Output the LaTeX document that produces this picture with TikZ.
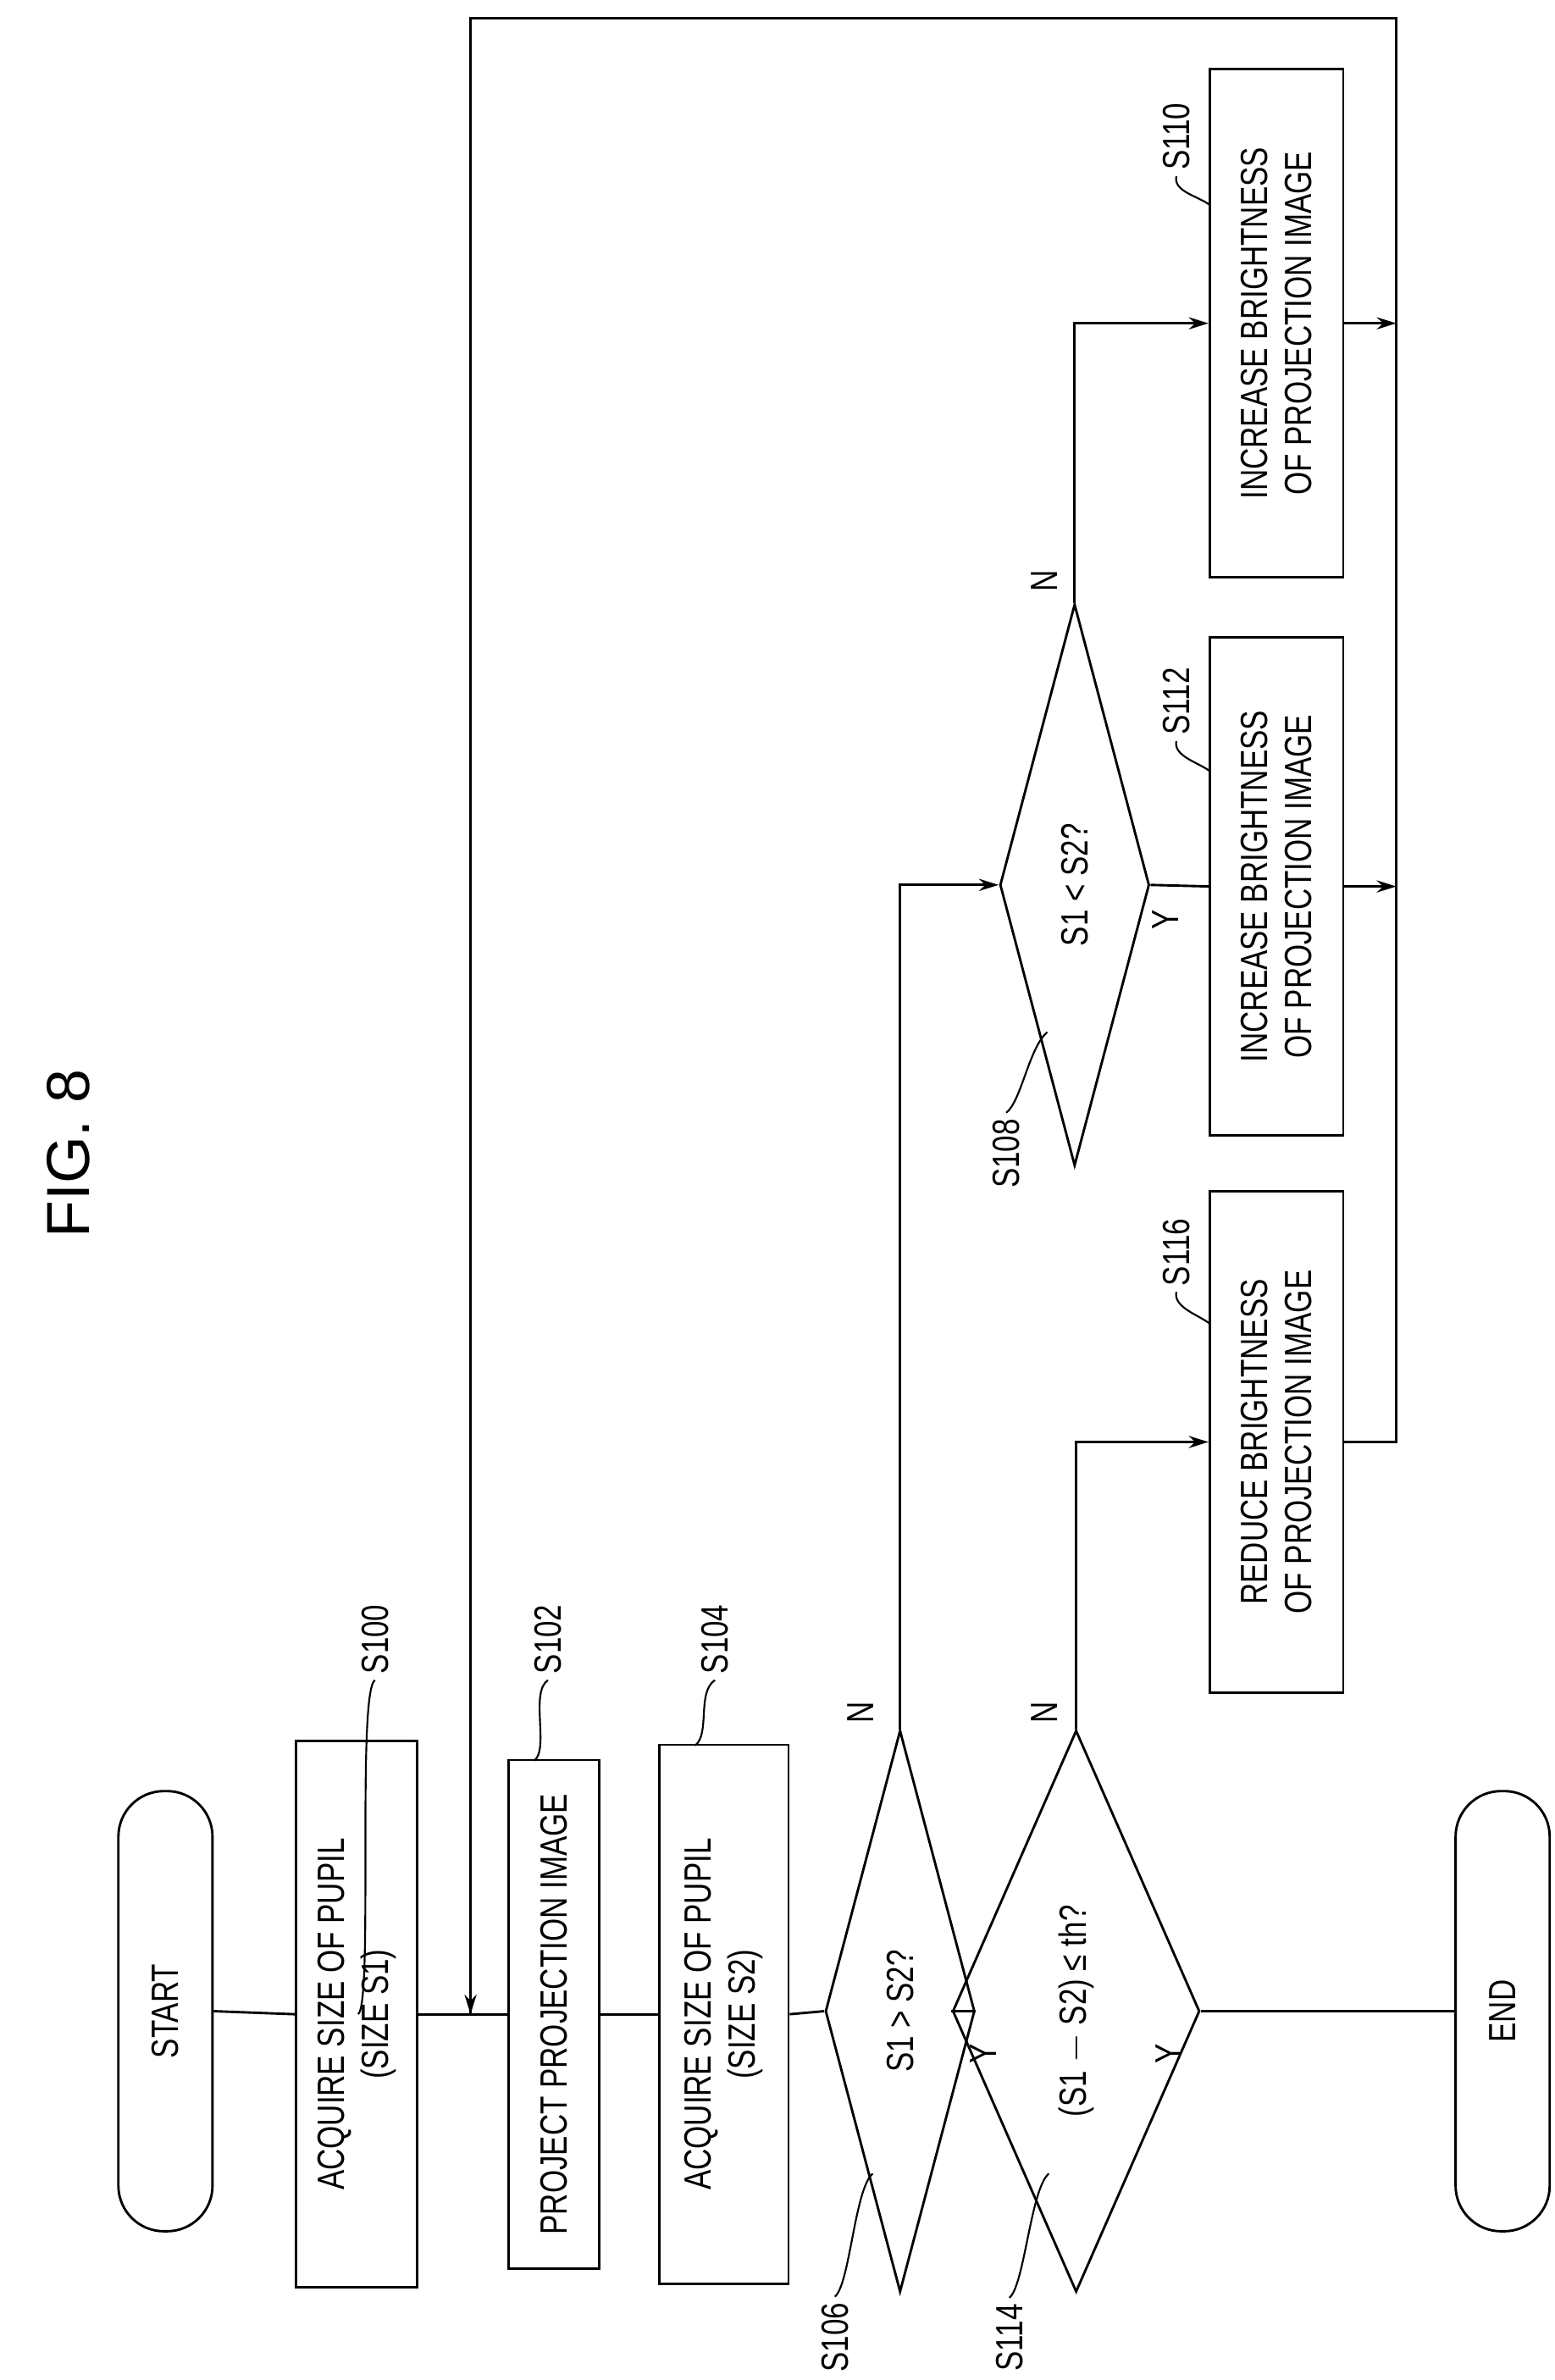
\documentclass[tikz,border=0pt]{standalone}
\usepackage{fontspec}
\setmainfont{Liberation Sans}[FakeStretch=0.78]
\newfontfamily\titlefont{Liberation Sans}
\usetikzlibrary{shapes.geometric,arrows.meta}
\begin{document}
\begin{tikzpicture}[x=1pt,y=-1pt,line width=1.6pt,
  >={Stealth[length=13pt,width=8pt]},
  every node/.style={font=\fontsize{25}{29}\selectfont},
  box/.style={draw,rectangle,rotate=90,align=center,inner sep=0pt},
  term/.style={draw,rectangle,rounded corners=30pt,rotate=90,inner sep=0pt,minimum width=290pt,minimum height=62pt},
  dec/.style={draw,diamond,rotate=90,inner sep=0pt,minimum width=370pt,minimum height=78pt},
  lbl/.style={rotate=90},
  yn/.style={rotate=90}]
\useasboundingbox (0,0) rectangle (1024,1568);
\node[rotate=90,font=\titlefont\fontsize{40}{44}\selectfont] (title) at (45,760) {FIG. 8};
\node[term] (start) at (109,1325) {START};
\node[box,minimum width=360pt,minimum height=80pt] (s100) at (235,1327) {ACQUIRE SIZE OF PUPIL\\(SIZE S1)};
\node[box,minimum width=335pt,minimum height=60pt] (s102) at (365,1327) {PROJECT PROJECTION IMAGE};
\node[box,minimum width=355pt,minimum height=85pt] (s104) at (477,1327) {ACQUIRE SIZE OF PUPIL\\(SIZE S2)};
\node[dec] (s106) at (593,1325) {S1 > S2?};
\node[dec] (s114) at (709,1325) {(S1 $-$ S2) ≤ th?};
\node[term] (end) at (990,1325) {END};
\node[dec] (s108) at (708,583) {S1 < S2?};
\node[box,minimum width=335pt,minimum height=88pt] (s110) at (841,213) {INCREASE BRIGHTNESS\\OF PROJECTION IMAGE};
\node[box,minimum width=328pt,minimum height=88pt] (s112) at (841,584) {INCREASE BRIGHTNESS\\OF PROJECTION IMAGE};
\node[box,minimum width=330pt,minimum height=88pt] (s116) at (841,950) {REDUCE BRIGHTNESS\\OF PROJECTION IMAGE};
% labels
\node[lbl] (l100) at (247,1080) {S100};
\node[lbl] (l102) at (361,1080) {S102};
\node[lbl] (l104) at (471,1080) {S104};
\node[lbl] (l106) at (550,1540) {S106};
\node[lbl] (l114) at (665,1540) {S114};
\node[lbl] (l108) at (663,760) {S108};
\node[lbl] (l116) at (775,825) {S116};
\node[lbl] (l112) at (775,462) {S112};
\node[lbl] (l110) at (775,90) {S110};
\draw[line width=1.2pt] (l100.west) .. controls +(-12,8) and +(10,-8) .. (s100.north -| 236,0);
\draw[line width=1.2pt] (l102.west) .. controls +(-12,8) and +(10,-8) .. (352,1160);
\draw[line width=1.2pt] (l104.west) .. controls +(-12,8) and +(10,-8) .. (458,1150);
\draw[line width=1.2pt] (l106.east) .. controls +(10,-8) and +(-12,10) .. (575,1432);
\draw[line width=1.2pt] (l114.east) .. controls +(10,-8) and +(-12,10) .. (691,1432);
\draw[line width=1.2pt] (l108.east) .. controls +(10,-8) and +(-12,10) .. (690,680);
\draw[line width=1.2pt] (l116.west) .. controls +(-2,10) and +(-8,-6) .. (797,872);
\draw[line width=1.2pt] (l112.west) .. controls +(-2,10) and +(-8,-6) .. (797,508);
\draw[line width=1.2pt] (l110.west) .. controls +(-2,10) and +(-8,-6) .. (797,135);
% Y/N
\node[yn] (n106) at (567,1128) {N};
\node[yn] (y106) at (648,1353) {Y};
\node[yn] (n114) at (688,1128) {N};
\node[yn] (y114) at (770,1353) {Y};
\node[yn] (n108) at (688,383) {N};
\node[yn] (y108) at (768,606) {Y};
% connectors
\coordinate (j) at (310,1327);
\coordinate (r) at (920,950);
\coordinate (top) at (920,12);
\coordinate (a110) at (920,213);
\coordinate (a112) at (920,584);
\draw (start.south) -- (s100.north);
\draw (s100.south) -- (s102.north);
\draw (s102.south) -- (s104.north);
\draw (s104.south) -- (s106.north);
\draw (s106.south) -- (s114.north);
\draw (s114.south) -- (end.north);
\draw[->] (s106.east) |- (s108.north);
\draw[->] (s114.east) |- (s116.north);
\draw[->] (s108.east) |- (s110.north);
\draw (s108.south) -- (s112.north);
\draw[->] (s110.south) -- (a110);
\draw[->] (s112.south) -- (a112);
\draw (s116.south) -- (r) -- (top) -| (j);
\draw[->] (top -| j) -- (j);
\end{tikzpicture}
\end{document}
